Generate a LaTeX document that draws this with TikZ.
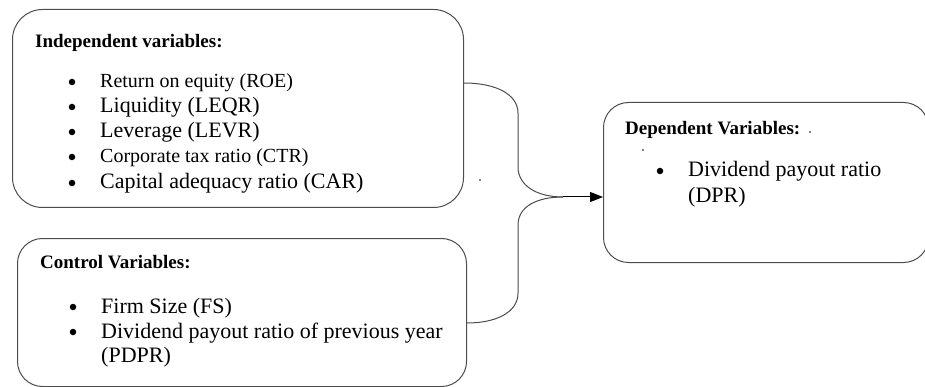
\documentclass[tikz,border=0pt]{standalone}
\usepackage{fontspec}
\setmainfont{Liberation Serif}
\usepackage{tikz}
\usetikzlibrary{arrows.meta,positioning}

\begin{document}
\begin{tikzpicture}[
    x=1pt, y=-1pt,
    panel/.style={draw=black!70, line width=1pt, anchor=north west, inner sep=0pt},
    head/.style={anchor=base west, inner sep=0pt, font=\fontsize{19}{22}\selectfont\bfseries},
    item/.style={anchor=base west, inner sep=0pt, font=\fontsize{22}{26}\selectfont},
    small/.style={anchor=base west, inner sep=0pt, font=\fontsize{20}{24}\selectfont},
    bul/.style={circle, fill=black, inner sep=0pt, minimum size=6.5pt},
    brace/.style={draw=black!70, line width=1pt},
    link/.style={-{Triangle[length=13pt, width=10pt]}, black, line width=1pt}
]
    \useasboundingbox (0,0) rectangle (925,387);

    % Boxes
    \node[panel, rounded corners=30pt, minimum width=451pt, minimum height=198pt] (indep) at (12,9) {};
    \node[panel, rounded corners=25pt, minimum width=449pt, minimum height=148pt] (ctrl) at (17,238) {};
    \node[panel, rounded corners=25pt, minimum width=325pt, minimum height=160pt] (dep) at (603,102) {};

    % Independent variables
    \node[head] (indephead) at (35,48) {Independent variables:};
    \node[bul] (b1) at (72,82) {};
    \node[small] (roe) at (100,88) {Return on equity (ROE)};
    \node[bul] (b2) at (72,107) {};
    \node[item] (leqr) at (100,113) {Liquidity (LEQR)};
    \node[bul] (b3) at (72,132) {};
    \node[item] (levr) at (100,138) {Leverage (LEVR)};
    \node[bul] (b4) at (72,157) {};
    \node[small] (ctr) at (100,163) {Corporate tax ratio (CTR)};
    \node[bul] (b5) at (72,183) {};
    \node[item] (car) at (100,189) {Capital adequacy ratio (CAR)};

    % Control variables
    \node[head] (ctrlhead) at (40,268) {Control Variables:};
    \node[bul] (b6) at (73,307) {};
    \node[item] (fs) at (101,313) {Firm Size (FS)};
    \node[bul] (b7) at (73,332) {};
    \node[item] (pdpr) at (101,338) {Dividend payout ratio of previous year};
    \node[item] (pdpr2) at (101,362) {(PDPR)};

    % Dependent variable
    \node[head] (dephead) at (625,135) {Dependent Variables:};
    \node[bul] (b8) at (660,171) {};
    \node[item] (dpr) at (688,177) {Dividend payout ratio};
    \node[item] (dpr2) at (688,203) {(DPR)};

    % stray dots
    \fill (810,132) circle (0.8);
    \fill (643,150) circle (0.8);
    \fill (480,180) circle (0.8);

    % Brace and arrow
    \coordinate (jn) at (563,197);
    \draw[brace] (indep.east |- 0,83) .. controls (497,83) and (518,95) .. (518,113)
        -- (518,167) .. controls (518,185) and (536,197) .. (jn);
    \draw[brace] (ctrl.east |- 0,323) .. controls (495,323) and (518,313) .. (518,293)
        -- (518,225) .. controls (518,207) and (536,197) .. (jn);
    \draw[link] (jn) -- (dep.west |- jn);

\end{tikzpicture}
\end{document}
